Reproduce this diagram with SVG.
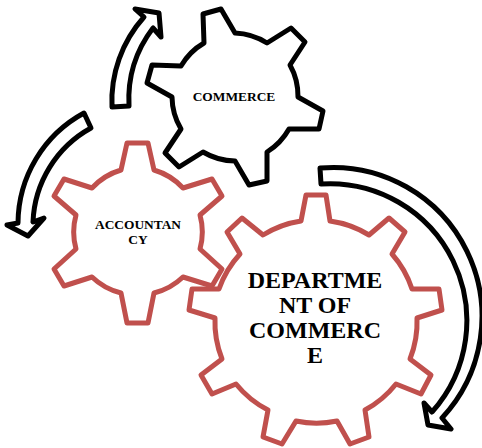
<svg xmlns="http://www.w3.org/2000/svg" width="482" height="448" viewBox="0 0 482 448">
<style>
.gear{fill:none;stroke-linejoin:round;stroke-width:5}
.red{stroke:#c0504d}
.blk{stroke:#000}
.arrow{fill:#fff;stroke:#000;stroke-width:5;stroke-linejoin:round}
text{font-family:"Liberation Serif","Times New Roman",serif;font-weight:bold;fill:#000;text-anchor:middle}
</style>
<rect width="482" height="448" fill="#fff"/>
<g id="connectors">
<path class="arrow" d="M112 107A126 126 0 0 1 144 17L135 9L159 13L161 37L153 28A118 118 0 0 0 129 106Z"/>
<path class="arrow" d="M84 113A126 126 0 0 0 18 223L7 225L28 236L44 218L33 222A112 112 0 0 1 91 128Z"/>
<path class="arrow" d="M320 168A149 149 0 0 1 442 418L451 429L428 425L424 403L432 412A137 137 0 0 0 321 184Z"/>
</g>
<g id="node-commerce">
<path class="gear blk" d="M203 14L221 9L235 33A64 64 0 0 1 267 43L291 28L305 42L290 65A64 64 0 0 1 298 97L323 111L319 129L289 129A64 64 0 0 1 267 152L267 181L249 185L235 161A64 64 0 0 1 203 152L179 167L165 153L181 129A64 64 0 0 1 172 97L147 83L152 65L181 66A64 64 0 0 1 204 43Z"/>
<text x="234" y="101" font-size="13.4">COMMERCE</text>
</g>
<g id="node-accountancy">
<path class="gear red" d="M127 143L148 143L154 170A64 64 0 0 1 183 188L212 179L222 196L200 215A64 64 0 0 1 200 249L222 269L212 286L183 277A64 64 0 0 1 154 293L148 323L127 323L121 293A64 64 0 0 1 92 277L64 286L54 269L76 249A64 64 0 0 1 76 215L54 196L64 179L92 188A64 64 0 0 1 121 170Z"/>
<text font-size="13.4"><tspan x="138" y="229">ACCOUNTAN</tspan><tspan x="138" y="244">CY</tspan></text>
</g>
<g id="node-department">
<path class="gear red" d="M306 195L326 195L330 221A100 100 0 0 1 369 235L389 218L405 232L392 254A100 100 0 0 1 412 289L439 289L442 310L417 318A100 100 0 0 1 410 359L431 375L421 394L396 384A100 100 0 0 1 365 410L369 437L350 444L337 421A100 100 0 0 1 296 421L282 444L263 437L268 410A100 100 0 0 1 236 384L212 394L201 375L222 359A100 100 0 0 1 215 318L189 310L192 289L219 289A100 100 0 0 1 240 254L227 232L242 218L263 235A100 100 0 0 1 301 221Z"/>
<text font-size="24"><tspan x="315" y="288">DEPARTME</tspan><tspan x="315" y="313">NT OF</tspan><tspan x="315" y="338">COMMERC</tspan><tspan x="315" y="363">E</tspan></text>
</g>
</svg>
